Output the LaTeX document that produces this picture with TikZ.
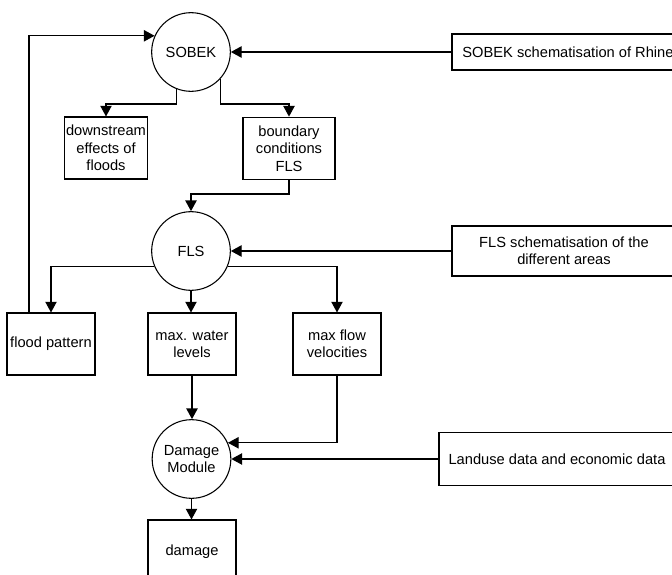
\documentclass[tikz,border=0pt]{standalone}
\usepackage{fontspec}
\setmainfont{Liberation Sans}
\usetikzlibrary{arrows.meta}
\tikzset{
  unit/.style={draw, circle, minimum size=59pt, inner sep=0pt, align=center},
  box/.style={draw, rectangle, inner sep=1pt, align=center},
  arr/.style={-{Triangle[length=8pt,width=8.5pt]}},
}
\begin{document}
\begin{tikzpicture}[x=0.75pt, y=-0.75pt, line width=0.8pt,
    font=\fontsize{11}{13}\selectfont]
      \useasboundingbox (0,0) rectangle (672,575);
      \clip (0,0) rectangle (672,575);

      % models
      \node[unit] (sobek) at (191,52) {SOBEK};
      \node[unit] (fls) at (191,251) {FLS};
      \node[unit] (dmg) at (191.5,459) {Damage\\Module};

      % input data
      \node[box, minimum width=174pt, minimum height=27pt] (sobekin) at (568,52) {SOBEK schematisation of Rhine};
      \node[box, minimum width=168pt, minimum height=37.5pt] (flsin) at (564,251) {FLS schematisation of the\\different areas};
      \node[box, minimum width=177pt, minimum height=40pt] (landuse) at (557,459) {Landuse data and economic data};

      % results
      \node[box, minimum width=61.5pt, minimum height=46.5pt] (down) at (106,148) {downstream\\effects of\\floods};
      \node[box, minimum width=69pt, minimum height=47pt] (bound) at (289,148.5) {boundary\\conditions\\FLS};
      \node[box, minimum width=66pt, minimum height=46.5pt] (flood) at (51,344) {flood pattern};
      \node[box, minimum width=66pt, minimum height=46.5pt] (maxwl) at (192,344) {max. water\\levels};
      \node[box, minimum width=66pt, minimum height=46.5pt] (maxfv) at (337,344) {max flow\\velocities};
      \node[box, minimum width=66pt, minimum height=48pt] (damage) at (192,552) {damage};

      \draw[arr] (sobekin.west) -- (sobek.east);
      \draw[arr] (sobek.248) -- (sobek.248 |- 0,104) -| (down.north);
      \draw[arr] (sobek.318) -- (sobek.318 |- 0,104) -| (bound.north);
      \draw[arr] (bound.south) -- (bound.south |- 0,194) -| (fls.north);
      \draw[arr] (29,0 |- flood.north) |- (sobek.156);

      \draw[arr] (flsin.west) -- (fls.east);
      \draw[arr] (fls.203) -| (flood.north);
      \draw[arr] (fls.south) -- (fls.south |- maxwl.north);
      \draw[arr] (fls.337) -| (maxfv.north);

      \draw[arr] (maxwl.south) -- (maxwl.south |- dmg.north);
      \draw[arr] (maxfv.south) |- (dmg.24);
      \draw[arr] (landuse.west) -- (dmg.east);
      \draw[arr] (dmg.south) -- (dmg.south |- damage.north);
\end{tikzpicture}
\end{document}
